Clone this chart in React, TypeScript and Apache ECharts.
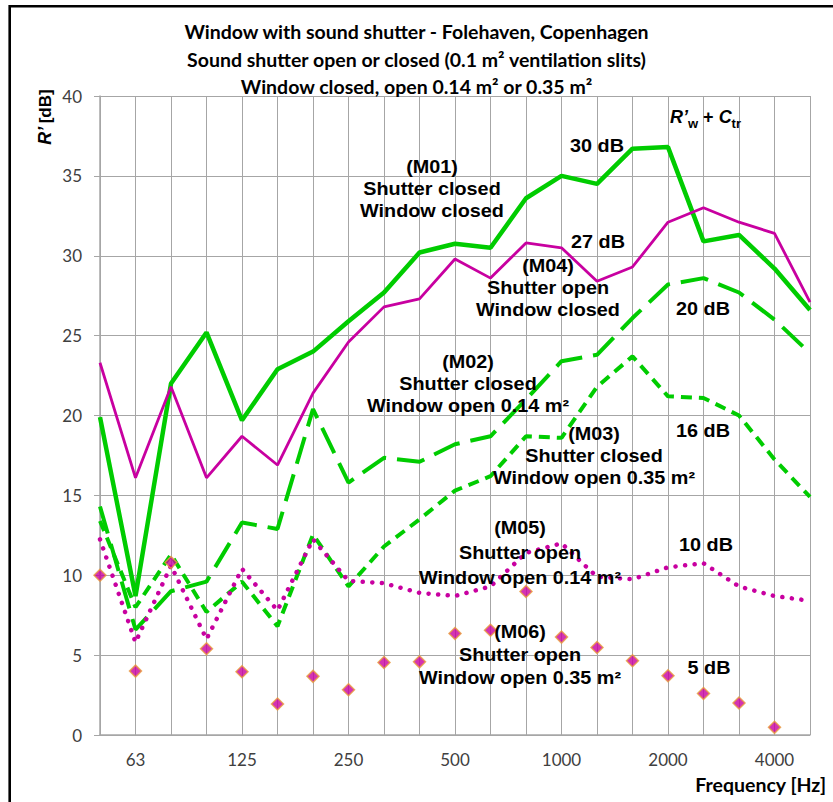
import React, { useEffect, useRef } from "react";
import * as echarts from "echarts";

const frequencies = ["50", "63", "80", "100", "125", "160", "200", "250", "315", "400", "500", "630", "800", "1000", "1250", "1600", "2000", "2500", "3150", "4000", "5000"];
const yTicks = [0, 5, 10, 15, 20, 25, 30, 35, 40];

const m01 = [19.9, 8.7, 22.0, 25.2, 19.7, 22.9, 24.0, 25.9, 27.7, 30.2, 30.75, 30.5, 33.6, 35.0, 34.5, 36.7, 36.8, 30.9, 31.3, 29.2, 26.6];
const m04 = [23.3, 16.1, 21.8, 16.1, 18.7, 16.9, 21.4, 24.6, 26.8, 27.3, 29.8, 28.6, 30.8, 30.5, 28.4, 29.3, 32.1, 33.0, 32.1, 31.4, 27.1];
const m02 = [14.3, 6.6, 9.0, 9.6, 13.3, 12.9, 20.4, 15.8, 17.35, 17.1, 18.2, 18.7, 21.0, 23.4, 23.8, 26.1, 28.2, 28.6, 27.7, 26.0, 23.9];
const m03 = [13.4, 8.0, 11.3, 7.7, 9.6, 6.8, 12.55, 9.3, 11.8, 13.5, 15.3, 16.2, 18.7, 18.6, 21.8, 23.7, 21.2, 21.1, 20.0, 17.25, 14.9];
const m05 = [12.25, 5.8, 10.6, 6.0, 10.4, 7.8, 12.25, 9.65, 9.5, 8.9, 8.7, 9.3, 11.4, 12.0, 9.9, 9.75, 10.5, 10.75, 9.3, 8.7, 8.4];
const m06 = [10.0, 4.0, 10.8, 5.4, 3.96, 1.94, 3.67, 2.83, 4.54, 4.58, 6.35, 6.56, 8.98, 6.13, 5.48, 4.65, 3.71, 2.6, 2.0, 0.48, null];

const titleLines = [
  "Window with sound shutter - Folehaven, Copenhagen",
  "Sound shutter open or closed (0.1 m² ventilation slits)",
  "Window closed, open 0.14 m² or 0.35 m²",
];

const GREEN = "#00CC00";
const MAGENTA = "#C800A0";
const GRID = "#a6a6a6";
const ANNOT_FONT = 'bold 18px "Liberation Sans", Arial, sans-serif';

export default function App() {
  const ref = useRef<HTMLDivElement>(null);

  useEffect(() => {
    if (!ref.current) return;
    const chart = echarts.init(ref.current, null, { renderer: "svg" });

    const note = (text: string, x: number, y: number, lh = 22) => ({
      type: "text",
      x,
      y,
      scaleX: 1.1,
      silent: true,
      z: 50,
      style: {
        text,
        font: ANNOT_FONT,
        fill: "#000",
        align: "center",
        verticalAlign: "middle",
        lineHeight: lh,
      },
    });

    chart.setOption({
      animation: false,
      backgroundColor: "#fff",
      title: {
        text: titleLines.join("\n"),
        left: "center",
        top: 13,
        textStyle: {
          fontFamily: "Lato, sans-serif",
          fontWeight: "bold",
          fontSize: 19.5,
          lineHeight: 27.5,
          color: "#000",
        },
      },
      grid: { left: 100, right: 23, top: 96, bottom: 67 },
      xAxis: {
        type: "category",
        data: frequencies,
        boundaryGap: false,
        axisLine: { lineStyle: { color: GRID, width: 1.5 } },
        axisTick: { show: false },
        axisLabel: {
          interval: (idx: number) => idx % 3 === 1,
          fontFamily: "Lato, sans-serif",
          fontSize: 17,
          color: "#404040",
          margin: 16,
        },
        splitLine: { show: true, interval: 0, lineStyle: { color: GRID, width: 1 } },
      },
      yAxis: {
        type: "value",
        min: yTicks[0],
        max: yTicks[yTicks.length - 1],
        interval: 5,
        axisLine: { show: true, lineStyle: { color: GRID, width: 1.5 } },
        axisTick: { show: true, length: 6, lineStyle: { color: GRID } },
        axisLabel: {
          fontFamily: "Lato, sans-serif",
          fontSize: 17,
          color: "#404040",
          margin: 18,
        },
        splitLine: { show: true, lineStyle: { color: GRID, width: 1 } },
      },
      series: [
        {
          name: "M01",
          type: "line",
          data: m01,
          symbol: "none",
          z: 5,
          lineStyle: { color: GREEN, width: 4.5 },
        },
        {
          name: "M04",
          type: "line",
          data: m04,
          symbol: "none",
          z: 6,
          lineStyle: { color: MAGENTA, width: 2.8 },
        },
        {
          name: "M02",
          type: "line",
          data: m02,
          symbol: "none",
          z: 4,
          lineStyle: { color: GREEN, width: 4, type: [28, 11] },
        },
        {
          name: "M03",
          type: "line",
          data: m03,
          symbol: "none",
          z: 4,
          lineStyle: { color: GREEN, width: 4, type: [11, 7] },
        },
        {
          name: "M05",
          type: "line",
          data: m05,
          symbol: "none",
          z: 7,
          lineStyle: { color: MAGENTA, width: 4.5, type: [0.1, 9.5], cap: "round" },
        },
        {
          name: "M06",
          type: "scatter",
          data: m06,
          symbol: "diamond",
          symbolSize: 12,
          z: 8,
          itemStyle: { color: MAGENTA, borderColor: "#E89A3C", borderWidth: 1.5 },
        },
      ],
      graphic: [
        {
          type: "rect",
          silent: true,
          shape: { x: 9.7, y: 6.2, width: 900, height: 900 },
          style: { fill: "none", stroke: "#000", lineWidth: 2.6 },
        },
        {
          type: "text",
          x: 45,
          y: 117,
          rotation: Math.PI / 2,
          silent: true,
          style: {
            text: "{i|R’} {b|[dB]}",
            align: "center",
            verticalAlign: "middle",
            rich: {
              i: { font: 'italic bold 18px "Liberation Sans", Arial, sans-serif', fill: "#000" },
              b: { font: 'bold 17px "Liberation Sans", Arial, sans-serif', fill: "#000" },
            },
          },
        },
        {
          type: "text",
          x: 826,
          y: 784,
          silent: true,
          style: {
            text: "Frequency [Hz]",
            font: "bold 19.5px Lato, sans-serif",
            fill: "#000",
            align: "right",
            verticalAlign: "middle",
          },
        },
        {
          type: "text",
          x: 670,
          y: 117,
          silent: true,
          z: 50,
          style: {
            text: "{i|R’}{s|w}{n| + }{i|C}{s|tr}",
            align: "left",
            verticalAlign: "middle",
            rich: {
              i: { font: 'italic bold 18px "Liberation Sans", Arial, sans-serif', fill: "#000", lineHeight: 24, verticalAlign: "middle" },
              n: { font: 'bold 18px "Liberation Sans", Arial, sans-serif', fill: "#000", lineHeight: 24, verticalAlign: "middle" },
              s: { font: 'bold 13px "Liberation Sans", Arial, sans-serif', fill: "#000", lineHeight: 25, verticalAlign: "bottom" },
            },
          },
        },
        note("(M01)\nShutter closed\nWindow closed", 432, 189),
        note("30 dB", 597, 146),
        note("27 dB", 598, 242),
        note("(M04)\nShutter open\nWindow closed", 548, 288),
        note("20 dB", 703, 309),
        note("(M02)\nShutter closed\nWindow open 0.14 m²", 468, 384),
        note("16 dB", 703, 431),
        note("(M03)\nShutter closed\nWindow open 0.35 m²", 594, 456),
        note("(M05)\nShutter open\nWindow open 0.14 m²", 520, 553, 25),
        note("10 dB", 706, 545),
        note("(M06)\nShutter open\nWindow open 0.35 m²", 520, 655, 23),
        note("5 dB", 709, 668),
      ],
    });

    return () => chart.dispose();
  }, []);

  return (
    <div
      ref={ref}
      style={{ position: "absolute", left: 0, top: 0, width: 833, height: 802 }}
    />
  );
}
